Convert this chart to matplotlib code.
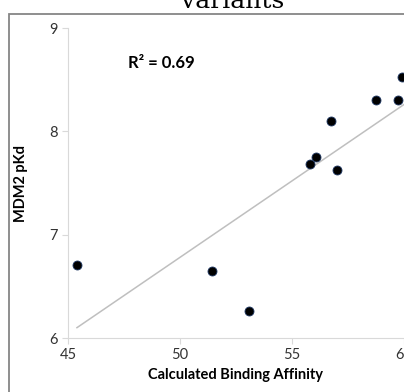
import matplotlib.pyplot as plt
from matplotlib.patches import Rectangle

# Data
calc_affinity = [45.4, 51.45, 53.1, 55.8, 56.05, 57.0, 56.75, 58.75, 59.75, 59.9]
mdm2_pkd = [6.71, 6.65, 6.26, 7.68, 7.75, 7.63, 8.10, 8.30, 8.30, 8.53]
fit_x = [45.4, 60.0]
fit_y = [6.10, 8.26]
xticks = [45, 50, 55, 60]
yticks = [6, 7, 8, 9]

plt.rcParams['font.family'] = ['Lato', 'DejaVu Sans']

fig = plt.figure(figsize=(4.04, 3.92), dpi=100)
ax = fig.add_axes([68 / 404, 54 / 392, 336 / 404, 310 / 392])

# outer frame (only left and top visible)
fig.patches.append(Rectangle((9 / 404, -0.1), 1.2, (392 - 14) / 392 + 0.1,
                             transform=fig.transFigure, fill=False,
                             edgecolor='#868686', linewidth=1.3))

# cut-off title
fig.text(0.575, 0.98, 'variants', ha='center', va='baseline',
         fontsize=18, family='DejaVu Serif')

ax.plot(fit_x, fit_y, color='#bfbfbf', linewidth=1.1, zorder=1)
ax.scatter(calc_affinity, mdm2_pkd, s=42, color='black',
           edgecolors='#1f3864', linewidths=0.6, zorder=3, clip_on=False)

ax.set_xlim(45, 60)
ax.set_ylim(6, 9)
ax.set_xticks(xticks)
ax.set_yticks(yticks)

for s in ['top', 'right']:
    ax.spines[s].set_visible(False)
for s in ['left', 'bottom']:
    ax.spines[s].set_color('#d9d9d9')
ax.tick_params(colors='#d9d9d9', labelcolor='#333333', labelsize=10.5,
               length=4, direction='out')

ax.set_xlabel('Calculated Binding Affinity', fontweight='bold',
              fontsize=10.5, labelpad=4)
ax.set_ylabel('MDM2 pKd', fontweight='bold', fontsize=10.5, labelpad=15)

ax.text(47.7, 8.61, 'R² = 0.69', fontweight='bold', fontsize=12)

fig.savefig('out.png', dpi=100)
